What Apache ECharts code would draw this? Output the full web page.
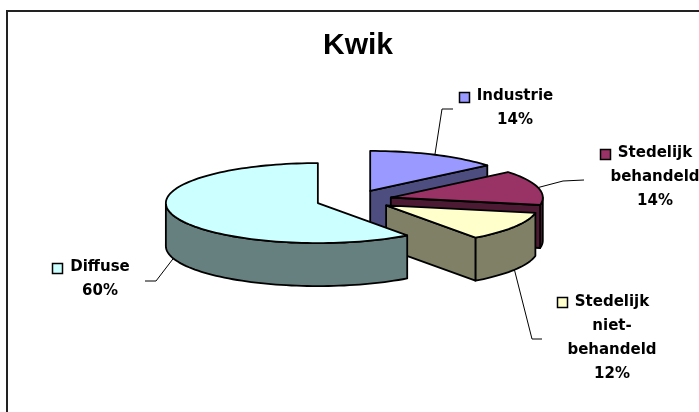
<!DOCTYPE html>
<html>
<head>
<meta charset="utf-8">
<script src="https://cdn.jsdelivr.net/npm/echarts@6.0.0/dist/echarts.min.js"></script>
<style>
  html, body { margin: 0; padding: 0; background: #fff; }
  #chart { width: 699px; height: 412px; }
</style>
</head>
<body>
<div id="chart"></div>
<script>
// data
const categories = ['Industrie', 'Stedelijk behandeld', 'Stedelijk niet-behandeld', 'Diffuse'];
const values = [14, 14, 12, 60];
const labelNames = ['Industrie', 'Stedelijk\nbehandeld', 'Stedelijk\nniet-\nbehandeld', 'Diffuse'];

// excel palette, top face / side face
const topColors = ['#9999FF', '#993366', '#FFFFCC', '#CCFFFF'];
const sideColors = ['#4D4D80', '#4D1A33', '#808066', '#668080'];

// pie geometry (px)
const cx = 354, cy = 200, rx = 152, ry = 40, depth = 43, explode = 38;

// where excel put the labels: leader elbow + end, text centre x, first line centre y
const labelLayout = [
  { elbow: [442, 109], end: [453, 109], tx: 515, ty: 96.5 },
  { elbow: [563, 181], end: [584, 180], tx: 655, ty: 153.5 },
  { elbow: [532, 339], end: [542, 339], tx: 612, ty: 302 },
  { elbow: [156, 281], end: [145, 281], tx: 100, ty: 267.5 }
];

const FONT = 'bold 15px "DejaVu Sans", sans-serif';
const LINE_H = 24;
const KEY = 10;
const total = values.reduce((a, b) => a + b, 0);

const measureCtx = document.createElement('canvas').getContext('2d');
measureCtx.font = FONT;

// angle measured clockwise from 12 o'clock
function rim(c, a, down) {
  return [c[0] + rx * Math.sin(a), c[1] - ry * Math.cos(a) + (down ? depth : 0)];
}
function arc(c, a0, a1, down) {
  const n = Math.max(2, Math.ceil(Math.abs(a1 - a0) / (Math.PI / 90)));
  const pts = [];
  for (let k = 0; k <= n; k++) pts.push(rim(c, a0 + (a1 - a0) * k / n, down));
  return pts;
}

const edge = { stroke: '#000', lineWidth: 1.8, lineJoin: 'round' };

function renderSlice(params, api) {
  const i = params.dataIndex;
  let start = 0;
  for (let k = 0; k < i; k++) start += values[k] / total * 2 * Math.PI;
  const end = start + api.value(0) / total * 2 * Math.PI;
  const mid = (start + end) / 2;
  const c = [cx + explode * Math.sin(mid), cy - explode * ry / rx * Math.cos(mid)];
  const cd = [c[0], c[1] + depth];
  const kids = [];

  // curved outer wall, only the part facing us
  const a = Math.max(start, Math.PI / 2), b = Math.min(end, Math.PI * 3 / 2);
  if (a < b) {
    const pts = arc(c, a, b, false).concat(arc(c, b, a, true));
    kids.push({ type: 'polygon', shape: { points: pts }, style: Object.assign({ fill: sideColors[i] }, edge) });
  }
  // cut faces
  if (Math.sin(end) > 1e-6) {
    kids.push({ type: 'polygon', shape: { points: [c, rim(c, end), rim(c, end, true), cd] },
      style: Object.assign({ fill: sideColors[i] }, edge) });
  }
  if (Math.sin(start) < -1e-6) {
    kids.push({ type: 'polygon', shape: { points: [c, rim(c, start), rim(c, start, true), cd] },
      style: Object.assign({ fill: sideColors[i] }, edge) });
  }
  // top
  kids.push({ type: 'polygon', shape: { points: [c].concat(arc(c, start, end, false)) },
    style: Object.assign({ fill: topColors[i] }, edge) });

  // leader line + label
  const lay = labelLayout[i];
  const p0 = rim(c, mid, Math.cos(mid) < 0);
  kids.push({ type: 'polyline', z2: 10, shape: { points: [p0, lay.elbow, lay.end] },
    style: { stroke: '#000', lineWidth: 1, fill: null } });
  const firstLine = labelNames[i].split('\n')[0];
  const w = measureCtx.measureText(firstLine).width;
  kids.push({ type: 'rect', z2: 10,
    shape: { x: Math.round(lay.tx - w / 2 - 8 - KEY) + 0.5, y: Math.round(lay.ty - KEY / 2) + 0.5, width: KEY, height: KEY },
    style: { fill: topColors[i], stroke: '#000', lineWidth: 1.5 } });
  const pct = Math.round(api.value(0) / total * 100) + '%';
  kids.push({ type: 'text', z2: 10, style: {
    text: labelNames[i] + '\n' + pct, x: lay.tx, y: lay.ty - LINE_H / 2,
    font: FONT, fill: '#000', align: 'center', verticalAlign: 'top',
    textAlign: 'center', textVerticalAlign: 'top', lineHeight: LINE_H } });

  return { type: 'group', children: kids };
}

const chart = echarts.init(document.getElementById('chart'));
chart.setOption({
  animation: false,
  backgroundColor: '#fff',
  graphic: [{
    type: 'rect', silent: true, z: -1,
    shape: { x: 7, y: 11, width: 760, height: 460 },
    style: { fill: null, stroke: '#222', lineWidth: 2 }
  }, {
    type: 'text', silent: true, x: 358, y: 46,
    style: {
      text: 'Kwik', font: 'bold 30px "Liberation Sans", Arial, sans-serif', fill: '#000',
      align: 'center', verticalAlign: 'middle', textAlign: 'center', textVerticalAlign: 'middle'
    }
  }],
  series: [{
    type: 'custom',
    coordinateSystem: 'none',
    silent: true,
    renderItem: renderSlice,
    data: values.map((v, i) => ({ name: categories[i], value: v }))
  }]
});
</script>
</body>
</html>
